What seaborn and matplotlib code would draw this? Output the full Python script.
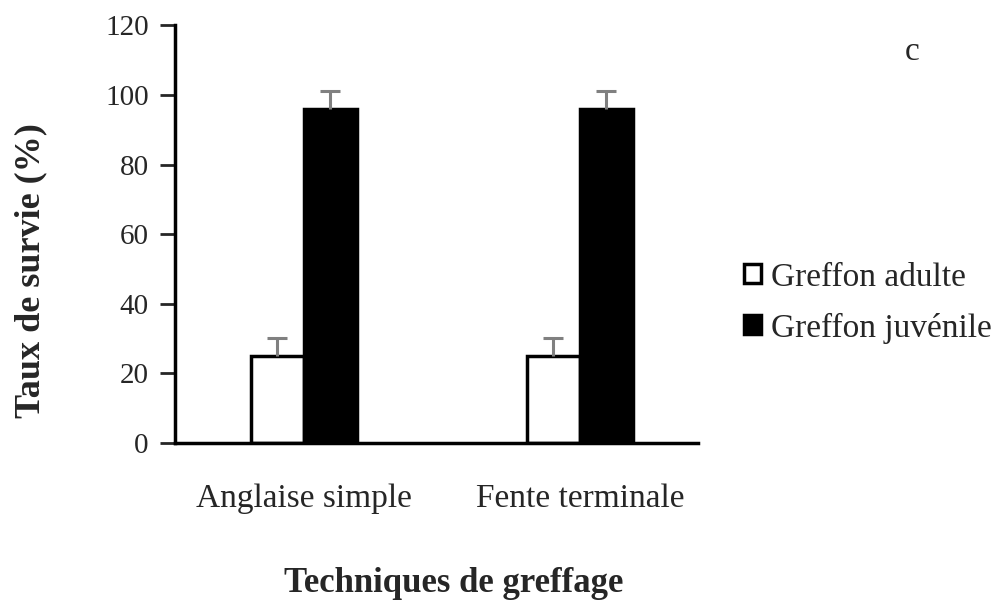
import matplotlib
matplotlib.use('Agg')
import matplotlib.pyplot as plt
import seaborn as sns
import pandas as pd
import numpy as np
from matplotlib.patches import Patch

# Data
techniques = ['Anglaise simple', 'Fente terminale']
greffons = ['Greffon adulte', 'Greffon juvénile']
survie_adulte = [25, 25]
survie_juvenile = [96, 96]
err_adulte = [5.2, 5.2]
err_juvenile = [5.2, 5.2]

df = pd.DataFrame({
    'technique': techniques * 2,
    'greffon': [greffons[0]] * 2 + [greffons[1]] * 2,
    'survie': survie_adulte + survie_juvenile,
    'err': err_adulte + err_juvenile,
})

sns.set_style('white')
plt.rcParams['font.family'] = ['Liberation Serif', 'DejaVu Serif']

fig = plt.figure(figsize=(10, 6.02), dpi=100)
ax = fig.add_axes([0.175, 0.264, 0.523, 0.694])

sns.barplot(data=df, x='technique', y='survie', hue='greffon',
            palette={greffons[0]: 'white', greffons[1]: 'black'},
            width=0.385, edgecolor='black', linewidth=2.5,
            errorbar=None, legend=False, ax=ax)

# upper error bars only, grey, placed from the bar patches
bars = [p for p in ax.patches if p.get_height() > 0]
for p, e in zip(bars, df['err']):
    xc = p.get_x() + p.get_width() / 2
    top = p.get_height()
    ax.vlines(xc, top, top + e, color='#808080', linewidth=2.2, zorder=3)
    ax.plot([xc], [top + e], marker='_', markersize=14, mew=2.2, color='#808080', zorder=3)

ax.set_ylim(0, 120)
ax.set_yticks(np.arange(0, 121, 20))
ax.set_xlim(-0.467, 1.428)
ax.tick_params(axis='y', direction='out', length=11, width=2, labelsize=21, pad=8, left=True)
ax.tick_params(axis='x', length=0, labelsize=24, pad=29)
for s in ['top', 'right']:
    ax.spines[s].set_visible(False)
for s in ['left', 'bottom']:
    ax.spines[s].set_linewidth(2.5)
    ax.spines[s].set_color('black')

ax.set_xlabel('Techniques de greffage', fontsize=25, fontweight='bold', va='center')
ax.xaxis.set_label_coords(0.532, -0.335)
ax.set_ylabel('Taux de survie (%)', fontsize=26, fontweight='bold', va='center')
ax.yaxis.set_label_coords(-0.275, 0.414)

handles = [Patch(facecolor='white', edgecolor='black', linewidth=2.5, label=greffons[0]),
           Patch(facecolor='black', edgecolor='black', linewidth=2.5, label=greffons[1])]
fig.legend(handles=handles, loc='center left', bbox_to_anchor=(0.744, 0.497),
           frameon=False, fontsize=24, handlelength=0.5, handleheight=0.5,
           handletextpad=0.3, labelspacing=0.6, borderpad=0, borderaxespad=0)

fig.text(0.905, 0.9, 'c', fontsize=24)

fig.savefig('out.png', dpi=100)
